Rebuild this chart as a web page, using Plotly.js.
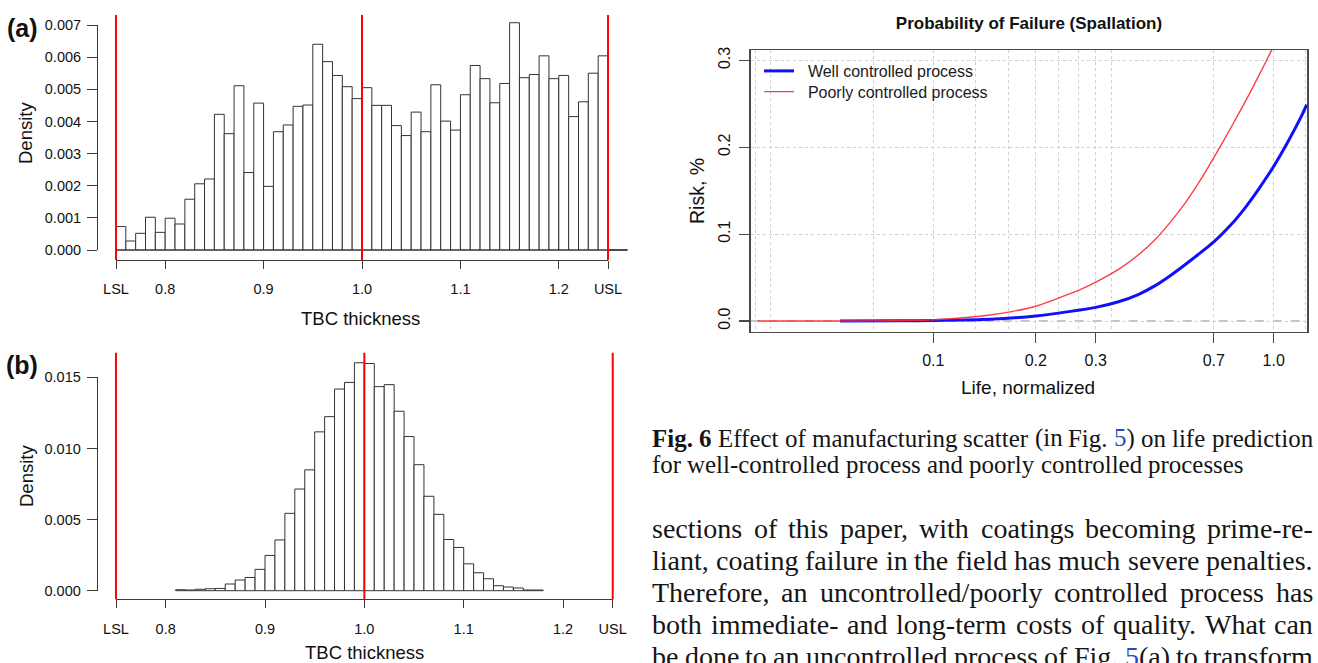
<!DOCTYPE html>
<html><head><meta charset="utf-8">
<script src="https://cdn.plot.ly/plotly-3.0.1.min.js"></script>
<style>html,body{margin:0;padding:0;background:#fff}#chart{width:1318px;height:663px}</style>
</head><body><div id="chart"></div>
<script>
// ---------------- data ----------------
const LSL = 0.75, TARGET = 1.0, USL = 1.25;
const binWidth = 0.01;

// (a) poorly controlled process: density per 0.01 bin starting at 0.75 (last two bins empty)
const binStartA = 0.75;
const densityA = [0.00073,0.00028,0.00052,0.00102,0.00055,0.00099,0.00081,0.00158,0.00206,0.00221,
  0.00422,0.00362,0.00511,0.00241,0.00457,0.00198,0.00368,0.00389,0.00447,0.00451,
  0.00640,0.00586,0.00543,0.00508,0.00471,0.00505,0.00450,0.00450,0.00387,0.00356,
  0.00429,0.00368,0.00514,0.00401,0.00373,0.00483,0.00574,0.00533,0.00458,0.00518,
  0.00707,0.00536,0.00546,0.00604,0.00533,0.00543,0.00415,0.00461,0.00550,0.00604,
  0, 0];

// (b) well controlled process: density per 0.01 bin starting at 0.81
const binStartB = 0.81;
const densityB = [0.00007,0.00005,0.00010,0.00014,0.00016,0.00047,0.00075,0.00093,0.00150,0.00248,
  0.00357,0.00544,0.00715,0.00850,0.01117,0.01224,0.01418,0.01465,0.01603,0.01598,
  0.01435,0.01449,0.01262,0.01084,0.00886,0.00664,0.00537,0.00360,0.00304,0.00189,
  0.00126,0.00084,0.00035,0.00026,0.00019,0.00005,0.00005];

const histTickVals = [0.75, 0.8, 0.9, 1.0, 1.1, 1.2, 1.25];
const histTickText = ['LSL', '0.8', '0.9', '1.0', '1.1', '1.2', 'USL'];

// Probability of failure curves
const lifeWell = [0.0532, 0.08, 0.1, 0.1467, 0.2, 0.25, 0.3, 0.35, 0.4, 0.45, 0.5, 0.55, 0.6, 0.667, 0.75, 0.823, 0.9, 1.0, 1.1, 1.2, 1.25];
const riskWell = [0, 0.0002, 0.0006, 0.002, 0.0058, 0.0108, 0.0157, 0.0222, 0.0305, 0.041, 0.053, 0.065, 0.0765, 0.091, 0.111, 0.130, 0.151, 0.178, 0.206, 0.234, 0.249];
const lifePoor = [0.0305, 0.06, 0.075, 0.09, 0.1, 0.12, 0.1467, 0.17, 0.2, 0.23, 0.27, 0.3, 0.35, 0.4, 0.45, 0.5, 0.55, 0.6, 0.667, 0.75, 0.85, 0.95, 1.01];
const riskPoor = [0, 0, 0.0003, 0.0009, 0.0015, 0.0035, 0.0069, 0.0108, 0.0170, 0.0255, 0.0360, 0.0447, 0.0595, 0.0760, 0.0945, 0.1150, 0.1360, 0.1580, 0.1880, 0.2230, 0.2620, 0.2990, 0.3200];
const lifeTickVals = [0.1, 0.2, 0.3, 0.6667, 1.0];
const lifeTickText = ['0.1', '0.2', '0.3', '0.7', '1.0'];
const lifeGrid = [0.03, 0.0333, 0.0667, 0.1333, 0.1667, 0.2333, 0.2667, 0.3333, 1.236];
const riskTickVals = [0, 0.1, 0.2, 0.3];
const riskTickText = ['0.0', '0.1', '0.2', '0.3'];

// text
const captionLines = [
  ['<b>Fig.</b>', '<b>6</b>', 'Effect', 'of', 'manufacturing', 'scatter', '(in', 'Fig.', '<span style="color:#2b48c4">5</span>)', 'on', 'life', 'prediction'],
  ['for', 'well-controlled', 'process', 'and', 'poorly', 'controlled', 'processes']
];
const bodyLines = [
  ['sections', 'of', 'this', 'paper,', 'with', 'coatings', 'becoming', 'prime-re-'],
  ['liant,', 'coating', 'failure', 'in', 'the', 'field', 'has', 'much', 'severe', 'penalties.'],
  ['Therefore,', 'an', 'uncontrolled/poorly', 'controlled', 'process', 'has'],
  ['both', 'immediate-', 'and', 'long-term', 'costs', 'of', 'quality.', 'What', 'can'],
  ['be', 'done', 'to', 'an', 'uncontrolled', 'process', 'of', 'Fig.', '<span style="color:#2b48c4">5</span>(a)', 'to', 'transform']
];

// ---------------- helpers ----------------
const W = 1318, H = 663;
const fx = p => p / W;
const fy = p => 1 - p / H;
const SANS = 'Liberation Sans, Arial, sans-serif';
const INK = '#111';
const AX = '#3a3a3a';

const centers = (start, arr) => arr.map((_, i) => +(start + binWidth * (i + 0.5)).toFixed(4));

const ctx = document.createElement('canvas').getContext('2d');
const plain = s => s.replace(/<[^>]+>/g, '');
function wordWidth(w, size) {
  ctx.font = (w.indexOf('<b>') >= 0 ? 'bold ' : '') + '100px "Liberation Serif"';
  return ctx.measureText(plain(w)).width * size / 100;
}
function fitSize(lines, width) {
  return Math.min(...lines.map(ws => {
    const t = ws.reduce((a, w) => a + wordWidth(w, 1), 0);
    return width / (t + 0.25 * (ws.length - 1));
  }));
}
function textLine(words, size, left, right, yc, justify) {
  const widths = words.map(w => wordWidth(w, size));
  const total = widths.reduce((a, b) => a + b, 0);
  const gap = justify ? (right - left - total) / (words.length - 1) : size * 0.25;
  let x = left;
  return words.map((w, i) => {
    const a = {text: w, x: fx(x), y: fy(yc), xref: 'paper', yref: 'paper', xanchor: 'left', yanchor: 'middle',
      showarrow: false, borderpad: 0, borderwidth: 0,
      font: {family: 'Liberation Serif, Times New Roman, serif', size: size, color: '#151515'}};
    x += widths[i] + gap;
    return a;
  });
}

// ---------------- traces ----------------
const barStyle = {color: '#ffffff', line: {color: '#333333', width: 1}};
const NB = '\u00a0\u00a0';
const traces = [
  {type: 'bar', x: centers(binStartA, densityA), y: densityA, width: binWidth, marker: barStyle,
   xaxis: 'x', yaxis: 'y', hoverinfo: 'skip', showlegend: false},
  {type: 'scatter', mode: 'lines', x: [binStartA, binStartA + binWidth * densityA.length], y: [0, 0],
   line: {color: '#333333', width: 1}, xaxis: 'x', yaxis: 'y', hoverinfo: 'skip', showlegend: false},
  {type: 'scatter', mode: 'markers', x: [LSL], y: [0], marker: {opacity: 0}, xaxis: 'x2', yaxis: 'y2', hoverinfo: 'skip', showlegend: false},
  {type: 'bar', x: centers(binStartB, densityB), y: densityB, width: binWidth, marker: barStyle,
   xaxis: 'x4', yaxis: 'y4', hoverinfo: 'skip', showlegend: false},
  {type: 'scatter', mode: 'markers', x: [LSL], y: [0], marker: {opacity: 0}, xaxis: 'x5', yaxis: 'y5', hoverinfo: 'skip', showlegend: false},
  {type: 'scatter', mode: 'lines', name: NB + 'Well controlled process', x: lifeWell, y: riskWell,
   line: {color: '#1010ff', width: 3, shape: 'spline', smoothing: 0.6}, xaxis: 'x3', yaxis: 'y3', legend: 'legend'},
  {type: 'scatter', mode: 'lines', name: NB + 'Poorly controlled process', x: lifePoor, y: riskPoor,
   line: {color: '#ff2a2a', width: 1.4, shape: 'spline', smoothing: 0.6}, opacity: 0.9, xaxis: 'x3', yaxis: 'y3', legend: 'legend2'}
];

// ---------------- axes ----------------
const hidden = (dom, range) => ({domain: dom, range: range, visible: false, fixedrange: true, automargin: false});
const tickAxis = {
  showline: true, linecolor: AX, linewidth: 1, ticks: 'outside', tickcolor: AX, tickwidth: 1,
  showgrid: false, zeroline: false, fixedrange: true, automargin: false,
  tickfont: {family: SANS, size: 14.5, color: INK}
};
const legendBase = {xanchor: 'left', yanchor: 'top', xref: 'paper', yref: 'paper',
  bgcolor: 'rgba(0,0,0,0)', borderwidth: 0, font: {family: SANS, size: 16, color: '#1a1a1a'}};

const layout = {
  width: W, height: H, autosize: false,
  margin: {l: 0, r: 0, t: 0, b: 0, pad: 0},
  paper_bgcolor: '#ffffff', plot_bgcolor: 'rgba(0,0,0,0)',
  showlegend: true,
  font: {family: SANS, color: INK},
  // (a)
  xaxis: hidden([fx(96.3), fx(627.7)], [0.73, 1.27]),
  yaxis: hidden([fy(260), fy(15)], [-0.00031, 0.00731]),
  xaxis2: Object.assign({}, tickAxis, {domain: [fx(116), fx(608)], range: [LSL, USL], anchor: 'free', position: fy(260),
    ticklen: 8, tickmode: 'array', tickvals: histTickVals, ticktext: histTickText, ticklabelstandoff: 8}),
  yaxis2: Object.assign({}, tickAxis, {domain: [fy(250), fy(25)], range: [0, 0.007], anchor: 'free', position: fx(97),
    ticklen: 10, tickmode: 'linear', tick0: 0, dtick: 0.001, tickformat: '.3f', ticklabelstandoff: 3}),
  // (b)
  xaxis4: hidden([fx(96.1), fx(632.6)], [0.73, 1.27]),
  yaxis4: hidden([fy(599.3), fy(352.7)], [-0.000605, 0.016737]),
  xaxis5: Object.assign({}, tickAxis, {domain: [fx(116), fx(612.7)], range: [LSL, USL], anchor: 'free', position: fy(599.3),
    ticklen: 8, tickmode: 'array', tickvals: histTickVals, ticktext: histTickText, ticklabelstandoff: 8}),
  yaxis5: Object.assign({}, tickAxis, {domain: [fy(590.7), fy(377.4)], range: [0, 0.015], anchor: 'free', position: fx(96.7),
    ticklen: 10, tickmode: 'linear', tick0: 0, dtick: 0.005, tickformat: '.3f', ticklabelstandoff: 3}),
  // right chart
  xaxis3: {domain: [fx(750.7), fx(1307.3)], type: 'log', range: [-1.5364, 0.0987], anchor: 'y3',
    showline: true, mirror: true, linecolor: '#4a4a4a', linewidth: 1.5,
    ticks: 'outside', ticklen: 10, tickcolor: '#4a4a4a', tickwidth: 1.2,
    tickmode: 'array', tickvals: lifeTickVals, ticktext: lifeTickText, ticklabelstandoff: 4,
    tickfont: {family: SANS, size: 16, color: INK},
    showgrid: true, gridcolor: '#cfcfcf', gridwidth: 1, griddash: 'dot',
    minor: {tickmode: 'array', tickvals: lifeGrid, ticks: '', showgrid: true, gridcolor: '#cfcfcf', gridwidth: 1, griddash: 'dot'},
    zeroline: false, fixedrange: true, automargin: false},
  yaxis3: {domain: [fy(331.7), fy(50)], range: [-0.0123, 0.3119], anchor: 'x3',
    showline: true, mirror: true, linecolor: '#4a4a4a', linewidth: 1.5,
    ticks: 'outside', ticklen: 10, tickcolor: '#4a4a4a', tickwidth: 1.2,
    tickmode: 'array', tickvals: riskTickVals, ticktext: riskTickText, tickangle: -90, ticklabelstandoff: 3,
    tickfont: {family: SANS, size: 16, color: INK},
    showgrid: true, gridcolor: '#cfcfcf', gridwidth: 1, griddash: 'dot',
    zeroline: false, fixedrange: true, automargin: false},
  title: {text: '<b>Probability of Failure (Spallation)</b>', x: fx(1029), y: fy(23), xref: 'paper', yref: 'paper',
    xanchor: 'center', yanchor: 'middle', font: {family: SANS, size: 17, color: INK}},
  legend: Object.assign({}, legendBase, {x: fx(759), y: fy(54)}),
  legend2: Object.assign({}, legendBase, {x: fx(759), y: fy(74.7)}),
  shapes: [],
  annotations: []
};

// spec limits / target lines
[LSL, TARGET, USL].forEach(v => {
  layout.shapes.push({type: 'line', xref: 'x', yref: 'y domain', x0: v, x1: v, y0: 0, y1: 1, line: {color: '#ff0000', width: 2}});
  layout.shapes.push({type: 'line', xref: 'x4', yref: 'y4 domain', x0: v, x1: v, y0: 0, y1: 1, line: {color: '#ff0000', width: 2}});
});
// zero reference line of the risk chart
layout.shapes.push({type: 'line', xref: 'x3 domain', yref: 'y3', x0: 0, x1: 1, y0: 0, y1: 0, layer: 'below',
  line: {color: '#b0b0b0', width: 1.5, dash: 'dash'}});

const ann = (text, x, y, size, extra) => Object.assign({text: text, x: fx(x), y: fy(y), xref: 'paper', yref: 'paper',
  xanchor: 'center', yanchor: 'middle', showarrow: false, font: {family: SANS, size: size, color: INK}}, extra || {});

layout.annotations.push(
  ann('<b>(a)</b>', 22, 28, 25),
  ann('<b>(b)</b>', 22, 365, 25),
  ann('Density', 26, 133, 18.5, {textangle: -90}),
  ann('Density', 26, 476, 18.5, {textangle: -90}),
  ann('TBC thickness', 361, 318, 18.5),
  ann('TBC thickness', 364, 652, 18.5),
  ann('Life, normalized', 1028, 387, 19),
  ann('Risk, %', 697, 191, 19.5, {textangle: -90})
);

// caption and body text (justified column)
const colL = 652, colR = 1313;
const capSize = fitSize([captionLines[0]], colR - colL);
layout.annotations.push(...textLine(captionLines[0], capSize, colL, colR, 438, true));
layout.annotations.push(...textLine(captionLines[1], capSize, colL, colR, 465, false));
const bodySize = fitSize(bodyLines.slice(0, 4), colR - colL);
const bodyY = [528, 560, 592.5, 624, 656.5];
bodyLines.forEach((ws, i) => layout.annotations.push(...textLine(ws, bodySize, colL, colR, bodyY[i], true)));

Plotly.newPlot('chart', traces, layout, {displayModeBar: false, staticPlot: true});
</script>
</body></html>
